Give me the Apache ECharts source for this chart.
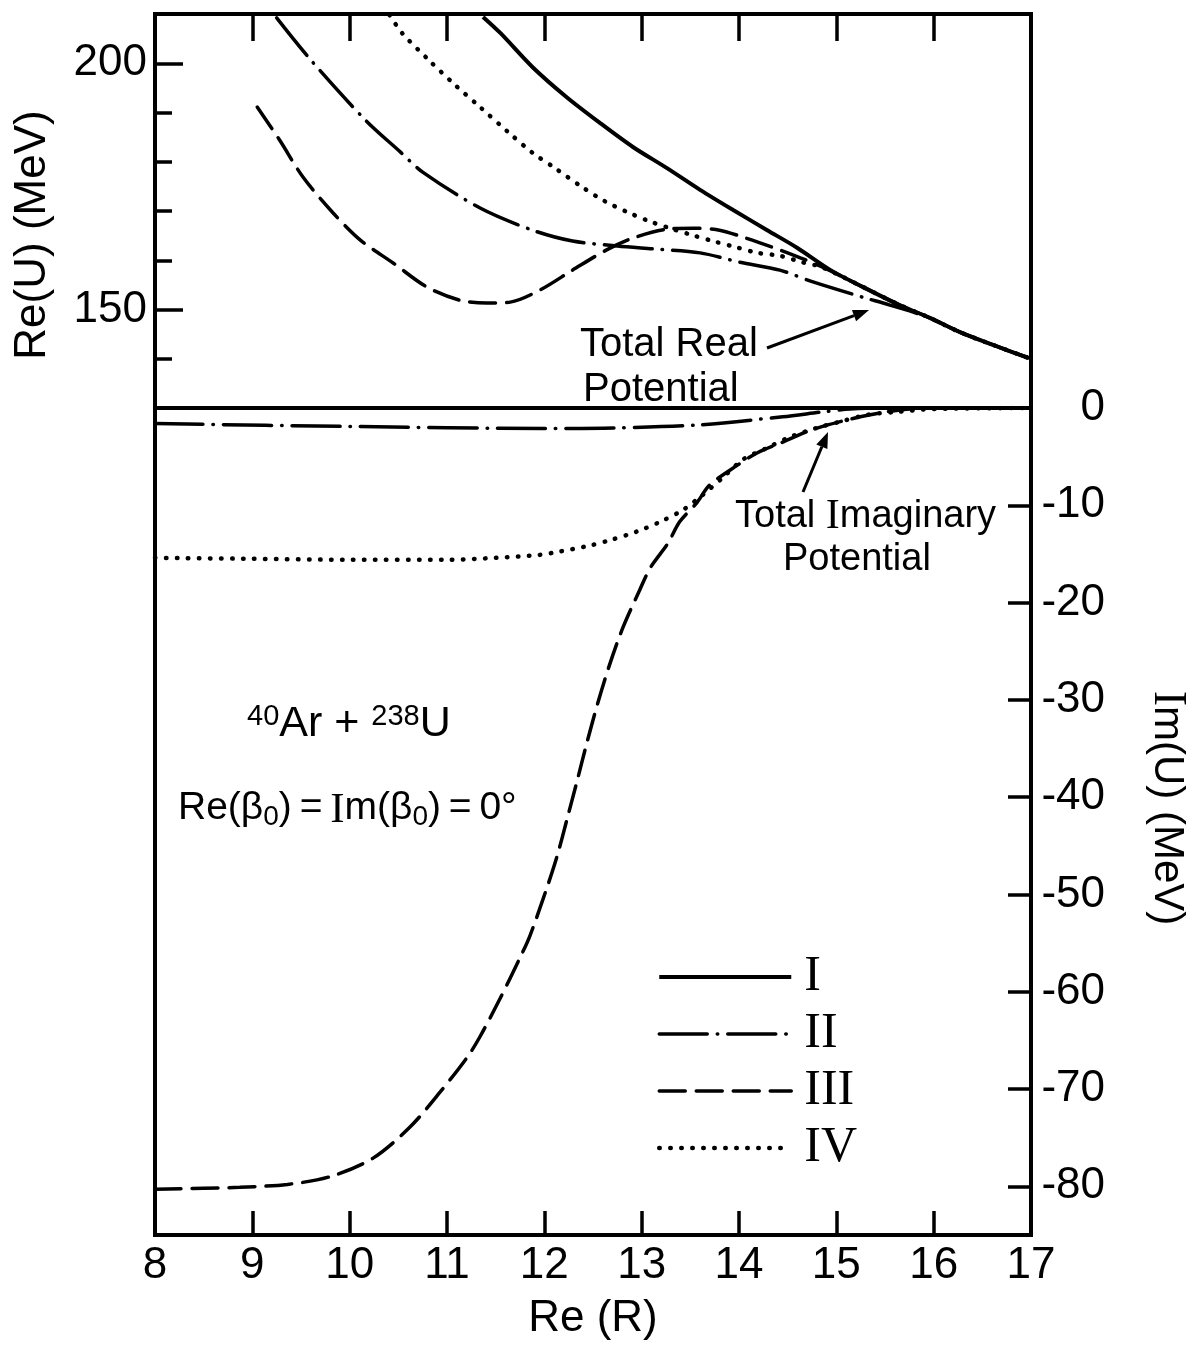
<!DOCTYPE html>
<html><head><meta charset="utf-8">
<script src="https://cdn.jsdelivr.net/npm/echarts@6/dist/echarts.min.js"></script>
<style>html,body{margin:0;padding:0;background:#fff}#c{width:1193px;height:1346px}</style>
</head><body><div id="c"></div>
<script>
// ---- data ----
const seriesNames = ['I', 'II', 'III', 'IV'];
const reMajorTicks = [150, 200];
const reMinorTicks = [140, 160, 170, 180, 190];
const imTicks = [0, -10, -20, -30, -40, -50, -60, -70, -80];

const reI = [[11.37,209.4],[11.55,206.1],[11.88,199.2],[12.23,193.1],[12.57,187.9],[12.91,183.0],[13.26,178.7],[13.60,174.3],[13.94,170.2],[14.29,166.1],[14.60,162.5],[14.94,158.0],[15.27,154.6],[15.65,150.9],[15.96,148.3],[16.27,145.4],[16.61,142.8],[16.97,140.2]];
const reII = [[9.25,209.2],[9.59,200.9],[10.16,188.5],[10.52,182.0],[10.75,177.9],[11.34,170.6],[11.88,166.1],[12.29,163.9],[12.75,162.9],[13.12,162.3],[13.60,161.5],[14.01,159.6],[14.42,158.0],[14.76,155.6],[15.27,152.5],[15.55,150.9],[15.96,148.3],[16.27,145.4],[16.61,142.8],[16.97,140.2]];
const reIII = [[9.05,191.1],[9.28,184.4],[9.52,176.9],[9.83,169.6],[10.11,164.1],[10.45,159.4],[10.79,154.6],[11.13,151.9],[11.41,151.3],[11.65,151.5],[11.96,154.0],[12.29,158.0],[12.64,162.1],[12.91,164.5],[13.26,166.3],[13.53,166.5],[13.80,166.1],[14.04,164.7],[14.42,162.1],[14.63,160.5],[14.86,158.6],[15.27,154.6],[15.65,150.9],[15.96,148.3],[16.27,145.4],[16.61,142.8],[16.97,140.2]];
const reIV = [[10.41,209.8],[10.54,206.1],[10.80,200.9],[11.06,196.0],[11.34,191.1],[11.63,186.0],[11.88,181.8],[12.11,178.7],[12.40,174.7],[12.62,172.0],[12.85,169.8],[13.07,168.0],[13.29,166.5],[13.52,165.1],[13.73,163.9],[13.96,162.7],[14.19,161.5],[14.42,160.9],[14.65,159.6],[14.85,158.6],[15.27,154.6],[15.65,150.9],[15.96,148.3],[16.27,145.4],[16.61,142.8],[16.97,140.2]];

const imI = [[8,0],[17,0]];
const imII = [[8,-1.6],[10,-1.9],[12,-2.1],[12.71,-2.05],[13.57,-1.75],[14.45,-0.9],[14.86,-0.4],[15.14,-0.1],[15.5,0],[17,0]];
const imIII = [[8,-80.3],[8.5,-80.2],[8.87,-80.1],[9.36,-79.8],[9.80,-79.0],[10.24,-77.1],[10.62,-73.9],[10.93,-70.3],[11.21,-66.7],[11.34,-64.6],[11.54,-60.8],[11.75,-56.5],[11.85,-54.3],[12.01,-49.8],[12.13,-46.1],[12.24,-42.0],[12.34,-38.2],[12.44,-34.3],[12.55,-30.3],[12.67,-26.4],[12.81,-22.5],[12.98,-18.7],[13.09,-16.4],[13.27,-13.9],[13.39,-11.7],[13.57,-9.7],[13.70,-7.9],[13.98,-5.9],[14.19,-4.6],[14.45,-3.5],[14.73,-2.3],[15.04,-1.4],[15.35,-0.7],[15.65,-0.2],[16.0,0],[17,0]];
const imIV = [[8,-15.4],[9,-15.5],[10,-15.6],[11,-15.6],[11.5,-15.4],[11.95,-15.1],[12.13,-14.8],[12.44,-14.2],[12.67,-13.6],[12.95,-12.7],[13.19,-11.7],[13.42,-10.5],[13.63,-8.9],[13.84,-7.1],[14.04,-5.3],[14.29,-4.1],[14.52,-3.0],[14.80,-2.05],[15.04,-1.4],[15.32,-0.7],[15.62,-0.4],[16.0,-0.1],[17,0]];

// ---- styles ----
const FONT = 'Liberation Sans';
const SERIF = 'Liberation Serif';
const styles = {
  'I':   {color:'#000', width:4, type:'solid'},
  'II':  {color:'#000', width:3.5, type:[48,10,0.5,10], cap:'round'},
  'III': {color:'#000', width:3.5, type:[26,11], cap:'round'},
  'IV':  {color:'#000', width:4.5, type:[0.5,10.5], cap:'round'}
};
const reData = {'I':reI,'II':reII,'III':reIII,'IV':reIV};
const imData = {'I':imI,'II':imII,'III':imIII,'IV':imIV};

const series = [];
seriesNames.forEach(n => {
  series.push({name:n, type:'line', xAxisIndex:0, yAxisIndex:0, data:reData[n], symbol:'none', smooth:0.3, lineStyle:Object.assign({}, styles[n]), itemStyle:{color:'#000'}, silent:true, animation:false, z:2});
});
seriesNames.forEach(n => {
  series.push({name:n, type:'line', xAxisIndex:1, yAxisIndex:1, data:imData[n], symbol:'none', smooth:0.3, lineStyle:Object.assign({}, styles[n]), itemStyle:{color:'#000'}, silent:true, animation:false, z:2});
});

function arrow(x1, y1, x2, y2) {
  const a = Math.atan2(y2 - y1, x2 - x1);
  const L = 16, W = 6;
  const bx = x2 - L * Math.cos(a), by = y2 - L * Math.sin(a);
  const px = -Math.sin(a) * W, py = Math.cos(a) * W;
  return [
    {type:'line', shape:{x1:x1, y1:y1, x2:bx, y2:by}, style:{stroke:'#000', lineWidth:3}},
    {type:'polygon', shape:{points:[[x2,y2],[bx+px,by+py],[bx-px,by-py]]}, style:{fill:'#000'}}
  ];
}

const txt = (t, x, y, size) => ({type:'text', x:x, y:y, style:{text:t, font: size + 'px "' + FONT + '"', fill:'#000', align:'left', verticalAlign:'middle'}});
const mkLine = () => ({show:true, onZero:false, lineStyle:{color:'#000', width:4}});
const mkTick = (len, vals) => {
  const t = {show:true, inside:true, length:len, lineStyle:{color:'#000', width:3.5}};
  if (vals) t.customValues = vals;
  return t;
};

const chart = echarts.init(document.getElementById('c'), null, {renderer:'canvas'});
chart.setOption({
  backgroundColor:'#fff',
  animation:false,
  grid:[
    {left:155, top:14, width:876, height:394, show:true, borderColor:'#000', borderWidth:4},
    {left:155, top:408, width:876, height:828, show:true, borderColor:'#000', borderWidth:4},
    // thin strip along the bottom edge of the lower panel, used only to carry the bottom tick marks
    {left:155, top:1212, width:876, height:24, show:false}
  ],
  xAxis:[
    {gridIndex:0, type:'value', position:'top', min:8, max:17, interval:1,
     axisLine:mkLine(), axisTick:mkTick(27),
     axisLabel:{show:false}, splitLine:{show:false}},
    {gridIndex:1, type:'value', position:'bottom', min:8, max:17, interval:1,
     axisLine:mkLine(), axisTick:mkTick(24),
     axisLabel:{color:'#000', fontFamily:FONT, fontSize:44, margin:9},
     splitLine:{show:false},
     name:'Re (R)', nameLocation:'middle', nameGap:62,
     nameTextStyle:{color:'#000', fontFamily:FONT, fontSize:44}},
    {gridIndex:2, type:'value', position:'top', min:8, max:17, interval:1,
     axisLine:{show:false, onZero:false},
     axisTick:{show:true, inside:true, length:24, lineStyle:{color:'#000', width:3.5}},
     axisLabel:{show:false}, splitLine:{show:false}}
  ],
  yAxis:[
    {gridIndex:0, type:'value', position:'left', min:130, max:210,
     axisLine:mkLine(), axisTick:mkTick(17, reMinorTicks),
     axisLabel:{customValues:reMajorTicks, color:'#000', fontFamily:FONT, fontSize:44, margin:8},
     splitLine:{show:false}},
    {gridIndex:1, type:'value', position:'right', min:-85, max:0,
     axisLine:mkLine(), axisTick:mkTick(23, imTicks),
     axisLabel:{customValues:imTicks, color:'#000', fontFamily:FONT, fontSize:44, align:'right', margin:74},
     splitLine:{show:false}},
    {gridIndex:0, type:'value', position:'left', min:130, max:210,
     axisLine:{show:false, onZero:false}, axisTick:mkTick(28, reMajorTicks),
     axisLabel:{show:false}, splitLine:{show:false}},
    {gridIndex:2, type:'value', min:0, max:1, show:false}
  ],
  legend:{
    orient:'vertical', left:657, top:952, padding:0, itemWidth:132, itemHeight:20, itemGap:7,
    selectedMode:false,
    data: seriesNames.map(n => ({name:n, itemStyle:{color:'rgba(0,0,0,0)', borderColor:'rgba(0,0,0,0)', borderWidth:0}, lineStyle:Object.assign({}, styles[n])})),
    textStyle:{color:'#000', fontFamily:SERIF, fontSize:50, lineHeight:40, padding:[0,0,0,8]}
  },
  graphic:[
    {type:'text', x:33, y:235, rotation:Math.PI/2,
     style:{text:'Re(U) (MeV)', font:'44px "' + FONT + '"', fill:'#000', align:'center', verticalAlign:'middle'}},
    {type:'text', x:1167, y:808, rotation:-Math.PI/2,
     style:{text:'{s|I}{m|m(U) (MeV)}', align:'center', verticalAlign:'middle', fill:'#000',
       rich:{s:{fontFamily:SERIF, fontSize:46, fill:'#000'}, m:{fontFamily:FONT, fontSize:42, fill:'#000'}}}},
    txt('Total Real', 580, 345, 40),
    txt('Potential', 583, 390, 40),
    ...arrow(767, 348, 869, 310),
    {type:'text', x:735, y:517,
     style:{text:'{m|Total }{s|I}{m|maginary}', fill:'#000', align:'left', verticalAlign:'middle',
       rich:{s:{fontFamily:SERIF, fontSize:42, fill:'#000'}, m:{fontFamily:FONT, fontSize:38, fill:'#000'}}}},
    txt('Potential', 783, 560, 38),
    ...arrow(803, 492, 828, 432),
    {type:'text', x:247, y:724,
     style:{text:'{sup|40}{m|Ar + }{sup|238}{m|U}', fill:'#000', align:'left', verticalAlign:'middle',
       rich:{
         sup:{fontFamily:FONT, fontSize:29, lineHeight:28, verticalAlign:'top', padding:[0,0,32,0], fill:'#000'},
         m:{fontFamily:FONT, fontSize:43, lineHeight:44, verticalAlign:'bottom', fill:'#000'}
       }}},
    {type:'text', x:178, y:810,
     style:{text:'{m|Re(β}{sub|0}{m|)\u2009=\u2009}{s|I}{m|m(β}{sub|0}{m|)\u2009=\u20090°}', fill:'#000', align:'left', verticalAlign:'middle',
       rich:{
         m:{fontFamily:FONT, fontSize:39, lineHeight:42, verticalAlign:'top', fill:'#000'},
         s:{fontFamily:SERIF, fontSize:43, lineHeight:42, verticalAlign:'top', fill:'#000'},
         sub:{fontFamily:FONT, fontSize:28, lineHeight:28, verticalAlign:'bottom', padding:[32,0,0,0], fill:'#000'}
       }}}
  ],
  series:series
});
</script>
</body></html>
